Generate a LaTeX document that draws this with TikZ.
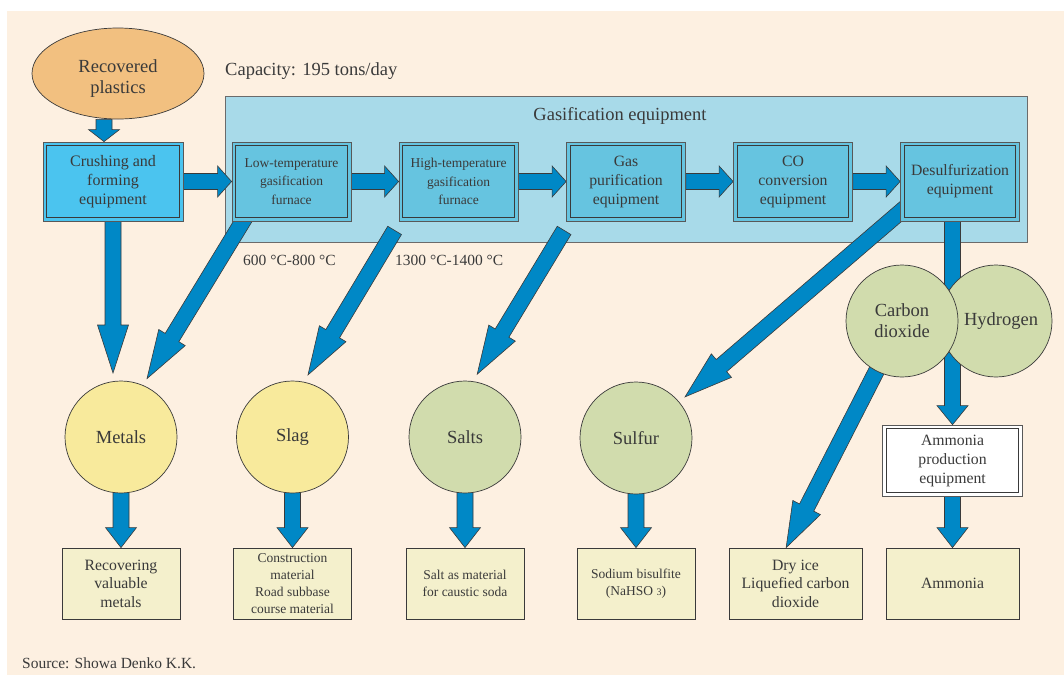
\documentclass[tikz,border=0pt]{standalone}
\usepackage{fontspec}
\setmainfont{Liberation Serif}
\usetikzlibrary{calc,shapes.geometric}

\definecolor{bgpeach}{HTML}{FDF0E1}
\definecolor{plasticorange}{HTML}{F2C080}
\definecolor{crushblue}{HTML}{4BC4EF}
\definecolor{gasbg}{HTML}{A8DAE9}
\definecolor{unitblue}{HTML}{66C4E0}
\definecolor{flowblue}{HTML}{0088C6}
\definecolor{metalyellow}{HTML}{F8EA9C}
\definecolor{saltgreen}{HTML}{D1DCAD}
\definecolor{productcream}{HTML}{F4F0CC}
\definecolor{edgegray}{HTML}{3A3A3A}
\definecolor{textgray}{HTML}{3A3A3A}

\pgfdeclarelayer{back}
\pgfdeclarelayer{mid}
\pgfsetlayers{back,mid,main}

% fat block arrow: [head length]{from}{to}
\newcommand{\fatarrow}[3][14]{%
  \coordinate (fa-a) at (#2);
  \coordinate (fa-b) at (#3);
  \coordinate (fa-h) at ($(fa-b)!#1pt!(fa-a)$);
  \filldraw[fatarrow] ($(fa-a)!8pt!90:(fa-b)$) -- ($(fa-h)!8pt!-90:(fa-a)$)
    -- ($(fa-h)!15.5pt!-90:(fa-a)$) -- (fa-b) -- ($(fa-h)!15.5pt!90:(fa-a)$)
    -- ($(fa-h)!8pt!90:(fa-a)$) -- ($(fa-a)!8pt!-90:(fa-b)$) -- cycle;}

\begin{document}
\begin{tikzpicture}[x=1pt, y=-1pt,
  every node/.style={text=textgray},
  fatarrow/.style={fill=flowblue, draw=edgegray, line width=0.6pt, line join=miter},
  innerframe/.style={path picture={\draw[edgegray, line width=0.8pt]
    ([shift={(3.8pt,3.8pt)}]path picture bounding box.south west) rectangle
    ([shift={(-3.8pt,-3.8pt)}]path picture bounding box.north east);}},
  feedstock/.style={ellipse, draw=edgegray, fill=plasticorange, line width=0.7pt,
    minimum width=172pt, minimum height=91pt, inner sep=0pt, align=center,
    font=\fontsize{18.5}{21}\selectfont},
  crushbox/.style={draw=edgegray!85, fill=crushblue, innerframe, line width=0.8pt,
    minimum width=140pt, minimum height=79pt, inner sep=0pt,
    align=center, font=\fontsize{16}{19}\selectfont},
  unitbox/.style={crushbox, fill=unitblue, minimum width=119pt,
    font=\fontsize{15.75}{19}\selectfont},
  fineunit/.style={font=\fontsize{13.5}{18.5}\selectfont},
  gasframe/.style={draw=edgegray!75, fill=gasbg, line width=0.8pt,
    minimum width=802pt, minimum height=146pt, inner sep=0pt},
  pod/.style={circle, draw=edgegray, line width=0.7pt, minimum size=112pt,
    inner sep=0pt, outer sep=8pt, align=center, font=\fontsize{18.5}{21}\selectfont},
  plantbox/.style={draw=edgegray!85, fill=white, innerframe, line width=0.7pt,
    minimum width=140pt, minimum height=71pt, inner sep=0pt,
    align=center, font=\fontsize{15.75}{19}\selectfont},
  productbox/.style={draw=edgegray, fill=productcream, line width=0.8pt,
    minimum width=118pt, minimum height=71pt, inner sep=0pt, align=center,
    font=\fontsize{15.75}{18.5}\selectfont},
  finetext/.style={font=\fontsize{13.5}{17}\selectfont},
  caption/.style={anchor=west, inner sep=0pt, font=\fontsize{18.5}{21}\selectfont},
  note/.style={anchor=west, inner sep=0pt, font=\fontsize{15.5}{18}\selectfont}]

  \useasboundingbox (0,0) rectangle (1064,675);

  % Background and gasification frame
  \begin{pgfonlayer}{back}
    \fill[bgpeach] (7,11) rectangle (1064,675);
    \node[gasframe] (gasplant) at (626,169) {};
  \end{pgfonlayer}

  % Feed
  \node[feedstock] (plastics) at (118,73.5) {\rule{0pt}{22pt}Recovered\\plastics};
  \node[crushbox] (crush) at (113,181.5) {Crushing and\\forming\\equipment};
  \node[caption] (capacity) at (225,71) {Capacity: 195 tons/day};
  \node[font=\fontsize{18.5}{21}\selectfont] (gastitle) at (620,116) {Gasification equipment};

  % Gasification units
  \node[unitbox, fineunit] (lowtemp) at (291.5,181.5) {Low-temperature\\gasification\\furnace};
  \node[unitbox, fineunit] (hightemp) at (458.5,181.5) {High-temperature\\gasification\\furnace};
  \node[unitbox] (gaspur) at (626,181.5) {Gas\\purification\\equipment};
  \node[unitbox] (coconv) at (793,181.5) {CO\\conversion\\equipment};
  \node[unitbox] (desulf) at (960,181.5) {Desulfurization\\equipment};

  \node[note] (lowrange) at (243,260) {600 °C-800 °C};
  \node[note] (highrange) at (395,260) {1300 °C-1400 °C};

  % By-products
  \node[pod, fill=metalyellow] (metals) at (121,437) {Metals};
  \node[pod, fill=metalyellow] (slag) at (292.5,437) {Slag};
  \node[pod, fill=saltgreen] (salts) at (465,437) {Salts};
  \node[pod, fill=saltgreen] (sulfur) at (636,438) {Sulfur};
  \node[pod, fill=saltgreen] (hydrogen) at (996,321) {\hspace*{10pt}Hydrogen};
  \node[pod, fill=saltgreen] (co2) at (902,321) {Carbon\\dioxide};

  \node[plantbox] (amprod) at (952.5,460.5) {Ammonia\\production\\equipment};

  % Products
  \node[productbox] (recover) at (121,583.5) {Recovering\\valuable\\metals};
  \node[productbox, finetext] (construct) at (292.5,583.5) {Construction\\material\\Road subbase\\course material};
  \node[productbox, finetext] (saltuse) at (465,583.5) {Salt as material\\for caustic soda};
  \node[productbox, finetext] (bisulfite) at (636,583.5) {Sodium bisulfite\\(NaHSO {\fontsize{10}{10}\selectfont 3})};
  \node[productbox, minimum width=133pt] (dryice) at (795.5,583.5) {Dry ice\\Liquefied carbon\\dioxide};
  \node[productbox, minimum width=133pt] (ammonia) at (952.5,583.5) {Ammonia};

  \node[note] (source) at (22,663) {Source: Showa Denko K.K.};

  % Flow arrows
  \begin{pgfonlayer}{mid}
    \coordinate (feed) at ([xshift=-14pt]plastics.south);
    \fatarrow[12]{feed}{feed |- crush.north}
    \fatarrow{crush.east}{lowtemp.west}
    \fatarrow{lowtemp.east}{hightemp.west}
    \fatarrow{hightemp.east}{gaspur.west}
    \fatarrow{gaspur.east}{coconv.west}
    \fatarrow{coconv.east}{desulf.west}

    \fatarrow[48]{crush.south}{crush.south |- metals.north}
    \fatarrow[48]{[shift={(16,-8)}]lowtemp.south west}{metals.66}
    \fatarrow[48]{[shift={(-4,9)}]hightemp.south west}{slag.76}
    \fatarrow[48]{[shift={(-2,9)}]gaspur.south west}{salts.79}
    \fatarrow[48]{[shift={(9,-17)}]desulf.south west}{sulfur.40}
    \fatarrow[19]{desulf.south -| amprod.north}{amprod.north}
    \fatarrow[45]{co2.center}{$(dryice.north west)!0.43!(dryice.north east)$}

    \fatarrow[20]{metals.center}{recover.north}
    \fatarrow[20]{slag.center}{construct.north}
    \fatarrow[20]{salts.center}{saltuse.north}
    \fatarrow[20]{sulfur.center}{bisulfite.north}
    \fatarrow[20]{amprod.south}{ammonia.north}
  \end{pgfonlayer}
\end{tikzpicture}
\end{document}
